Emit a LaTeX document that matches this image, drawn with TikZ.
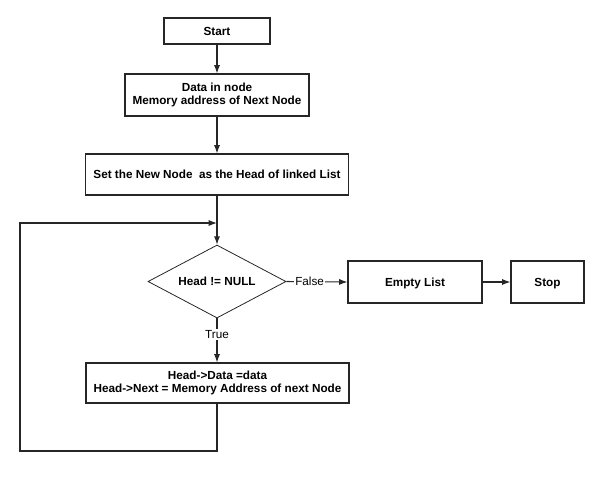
\documentclass[tikz,border=0pt]{standalone}
\usepackage{fontspec}
\setmainfont{Liberation Sans}
\usepackage{tikz}
\usetikzlibrary{arrows.meta}
\usetikzlibrary{shapes.geometric}
\tikzset{>={Latex[length=2.2mm,width=1.6mm]}}
\tikzstyle{box} = [rectangle, draw=black!85, line width=0.8pt, align=center,
    inner sep=0pt, font=\fontsize{8.8}{10.3}\selectfont\bfseries]
\tikzstyle{oneline} = [text height=1.6ex, text depth=0.35ex]
\tikzstyle{decision} = [diamond, aspect=1.89, draw=black!85, line width=0.6pt, inner sep=0pt,
    font=\fontsize{8.8}{10.3}\selectfont\bfseries]
\tikzstyle{flow} = [draw=black!85, line width=0.8pt]
\tikzstyle{tag} = [fill=white, inner sep=1pt, font=\fontsize{8.8}{10.3}\selectfont]
\begin{document}
\begin{tikzpicture}[x=0.75pt,y=-0.75pt]
    \useasboundingbox (0,0) rectangle (593,487);
    \node[box, oneline, minimum width=106*0.75pt, minimum height=26*0.75pt] (start) at (217,31) {Start};  %start
    \node[box, minimum width=184*0.75pt, minimum height=42*0.75pt] (data) at (217,95)
        {Data in node\\Memory address of Next Node};
    \node[box, oneline, minimum width=263*0.75pt, minimum height=41*0.75pt] (sethead) at (217,174.5)
        {Set the New Node\ \ as the Head of linked List};
    %test
    \node[decision, minimum width=138*0.75pt, minimum height=73*0.75pt] (test) at (217,281.5)
        {Head != NULL};
    \node[box, oneline, minimum width=134*0.75pt, minimum height=42*0.75pt] (empty) at (415,282) {Empty List};
    \node[box, oneline, minimum width=73*0.75pt, minimum height=42*0.75pt] (stop) at (547.5,282) {Stop};
    %loop body
    \node[box, minimum width=263*0.75pt, minimum height=40*0.75pt] (update) at (217.5,383)
        {Head-{>}Data =data\\Head-{>}Next = Memory Address of next Node};
    \coordinate (loopin) at (217,223);
    \coordinate (loopbot) at (20,451);
    \draw[flow,->] (start) to (data);
    \draw[flow,->] (data) to (sethead);
    \draw[flow,->] (sethead) to (test);
    \draw[flow,->] (test.east) to node[tag, pos=0.38] {False} (empty.west);
    \draw[flow,->] (empty) to (stop);
    \draw[flow,->] (test.south) to node[tag, pos=0.36] {True} (test.south |- update.north);
    % back to the test
    \draw[flow,->] (test.south |- update.south) |- (loopbot) |- (loopin);
\end{tikzpicture}
\end{document}
